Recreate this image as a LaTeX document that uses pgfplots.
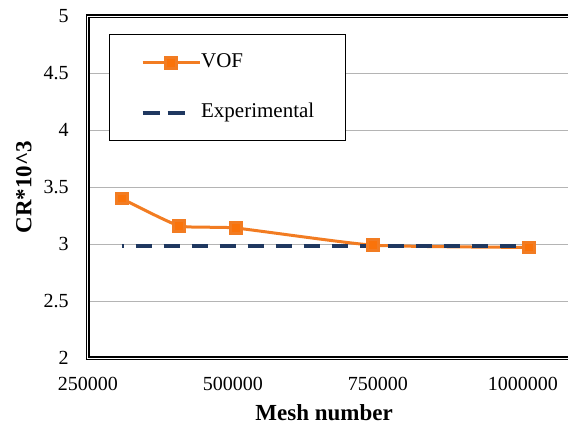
\documentclass[border=0pt]{standalone}
\usepackage{fontspec}
\setmainfont{Liberation Serif}
\usepackage{pgfplots}
\pgfplotsset{compat=1.18}
\definecolor{vof}{RGB}{242,124,34}
\definecolor{vofmark}{RGB}{250,115,10}
\definecolor{expline}{RGB}{31,56,96}
\definecolor{gridgray}{RGB}{180,180,180}

% legend pictograms
\pgfplotsset{
  vof legend/.style={legend image code/.code={\draw[##1, mark repeat=2, mark phase=2]
    plot coordinates {(0pt,0pt) (14.25pt,0pt) (28.5pt,0pt)};}},
  exp legend/.style={legend image code/.code={\draw[##1, dash pattern=on 8.5pt off 4pt, dash phase=0pt]
    (0pt,0pt) -- (21pt,0pt);}},
}

\begin{document}
\begin{tikzpicture}
\begin{axis}[
  scale only axis,
  width=246.5pt, height=171pt,
  xmin=250000, xmax=1100000, ymin=2, ymax=5,
  scaled x ticks=false,
  xtick={250000,500000,750000,1000000},
  xticklabels={250000,500000,750000,1000000},
  ytick={2,2.5,3,3.5,4,4.5,5},
  yticklabels={2,2.5,3,3.5,4,4.5,5},
  tick label style={font=\fontsize{10}{12}\selectfont, inner sep=0pt},
  xticklabel style={anchor=north}, yticklabel style={anchor=east},
  xticklabel shift=9.5pt, yticklabel shift=9.5pt,
  major tick length=0pt,
  ymajorgrids, grid style={gridgray, line width=0.5pt},
  axis line style={line width=0.65pt, double=white, double distance=0.5pt},
  xlabel={\textbf{Mesh number}},
  ylabel={\textbf{CR*10\textasciicircum 3}},
  every axis x label/.style={at={(axis description cs:0.479,-0.161)}, anchor=center,
    font=\fontsize{11.5}{13}\selectfont},
  every axis y label/.style={at={(axis description cs:-0.13,0.5)}, rotate=90, anchor=center,
    font=\fontsize{11.5}{13}\selectfont},
  legend cell align=left,
  legend style={at={(axis description cs:0.0426,0.947)}, anchor=north west,
    draw=black, line width=0.6pt, fill=white,
    inner xsep=15.5pt, inner ysep=9pt, row sep=15pt,
    font=\fontsize{10.5}{12}\selectfont,
    nodes={inner sep=0pt, text height=7.5pt, text depth=2.5pt},
    /tikz/every even column/.append style={column sep=1.5pt}},
]
\coordinate (bl) at (rel axis cs:0,0);

% simulated VOF results
\addplot[vof, line width=1.5pt, smooth, tension=0.3,
  mark=square*, mark size=2.7pt, mark options={solid, fill=vofmark, draw=vof},
  vof legend]
  coordinates {(308000,3.40) (407000,3.16) (505000,3.14) (741000,2.99) (1010000,2.97)};
\addlegendentry{VOF}

% measured value
\addplot[expline, line width=2pt, dash pattern=on 8pt off 6pt, dash phase=7pt, exp legend]
  coordinates {(308000,2.98) (1010000,2.98)};
\addlegendentry{Experimental}
\end{axis}
\pgfresetboundingbox
\path[use as bounding box] ([shift={(-44pt,-38.5pt)}]bl) rectangle ([shift={(240pt,179pt)}]bl);
\end{tikzpicture}
\end{document}
